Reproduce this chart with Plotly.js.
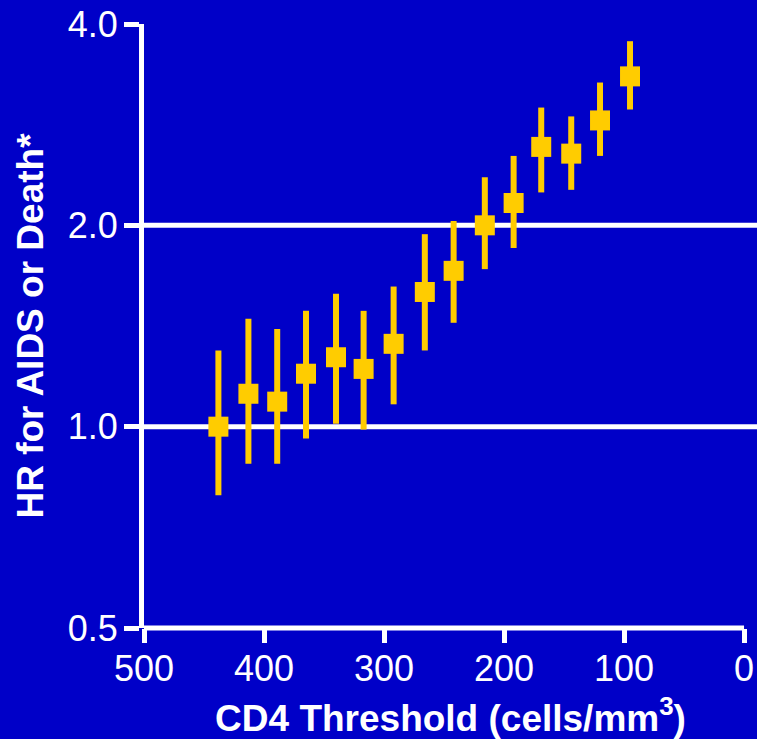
<!DOCTYPE html>
<html>
<head>
<meta charset="utf-8">
<script src="https://cdn.plot.ly/plotly-3.0.1.min.js"></script>
<style>
  html, body { margin: 0; padding: 0; background: #0000C8; }
  #chart { width: 757px; height: 739px; }
</style>
</head>
<body>
<div id="chart"></div>
<script>
// CD4 threshold (cells/mm3) at which therapy is deferred
const cd4Threshold = [438, 413, 389, 365, 340, 317, 292, 266, 242, 216, 192, 169, 144, 120, 95];
// Hazard ratio for AIDS or death, with 95% confidence limits
const hazardRatio = [1.00, 1.12, 1.09, 1.20, 1.27, 1.22, 1.33, 1.59, 1.71, 2.00, 2.16, 2.62, 2.56, 2.87, 3.34];
const ciLower     = [0.79, 0.88, 0.88, 0.96, 1.01, 0.99, 1.08, 1.30, 1.43, 1.72, 1.85, 2.24, 2.26, 2.54, 2.98];
const ciUpper     = [1.30, 1.45, 1.40, 1.49, 1.58, 1.49, 1.62, 1.94, 2.03, 2.36, 2.54, 3.00, 2.91, 3.27, 3.77];

// Axis ticks
const xTickVals = [500, 400, 300, 200, 100, 0];
const xTickText = ['500', '400', '300', '200', '100', '0'];
const yTickVals = [0.5, 1, 2, 4];
const yTickText = ['0.5', '1.0', '2.0', '4.0'];
const yGridVals = [1, 2];

const BLUE = '#0000C8';
const GOLD = '#FFCC00';
const WHITE = '#FFFFFF';
const FONT = 'Liberation Sans, Arial, Helvetica, sans-serif';

const trace = {
  type: 'scatter',
  mode: 'markers',
  x: cd4Threshold,
  y: hazardRatio,
  marker: { symbol: 'square', size: 20, color: GOLD, line: { width: 0 } },
  error_y: {
    type: 'data',
    symmetric: false,
    array: ciUpper.map((u, i) => u - hazardRatio[i]),
    arrayminus: ciLower.map((l, i) => hazardRatio[i] - l),
    color: GOLD,
    thickness: 6,
    width: 0
  },
  hoverinfo: 'skip',
  showlegend: false
};

const shapes = yGridVals.map(v => ({
  type: 'line', xref: 'paper', yref: 'y',
  x0: 0, x1: 1, y0: v, y1: v,
  line: { color: WHITE, width: 5 },
  layer: 'below'
}));
// x axis baseline, spanning the labelled range only
shapes.push({
  type: 'line', xref: 'x', yref: 'paper',
  x0: xTickVals[0], x1: xTickVals[xTickVals.length - 1], y0: 0, y1: 0,
  line: { color: WHITE, width: 5 },
  layer: 'below'
});

const layout = {
  width: 757,
  height: 739,
  paper_bgcolor: BLUE,
  plot_bgcolor: BLUE,
  margin: { l: 144, r: 0, t: 24, b: 111 },
  showlegend: false,
  font: { family: FONT, color: WHITE },
  xaxis: {
    range: [500, -10.8],
    tickvals: xTickVals,
    ticktext: xTickText,
    ticks: 'outside',
    ticklen: 14,
    tickwidth: 5,
    tickcolor: WHITE,
    ticklabelstandoff: -5,
    tickfont: { family: FONT, size: 36, color: WHITE },
    showgrid: false,
    zeroline: false,
    showline: false,
    automargin: false,
    title: {
      text: 'CD4 Threshold (cells/mm<sup>3</sup>)',
      font: { family: FONT, size: 37, color: WHITE, weight: 'bold' },
      standoff: 16
    }
  },
  yaxis: {
    type: 'log',
    range: [Math.log10(0.5), Math.log10(4)],
    tickvals: yTickVals,
    ticktext: yTickText,
    ticks: 'outside',
    ticklen: 15,
    tickwidth: 5,
    tickcolor: WHITE,
    ticklabelstandoff: -1,
    tickfont: { family: FONT, size: 36, color: WHITE },
    showgrid: false,
    zeroline: false,
    showline: true,
    linecolor: WHITE,
    linewidth: 5,
    automargin: false,
    title: {
      text: 'HR for AIDS or Death*',
      font: { family: FONT, size: 37, color: WHITE, weight: 'bold' },
      standoff: 14
    }
  },
  shapes: shapes
};

Plotly.newPlot('chart', [trace], layout, { displayModeBar: false, staticPlot: true });
</script>
</body>
</html>
